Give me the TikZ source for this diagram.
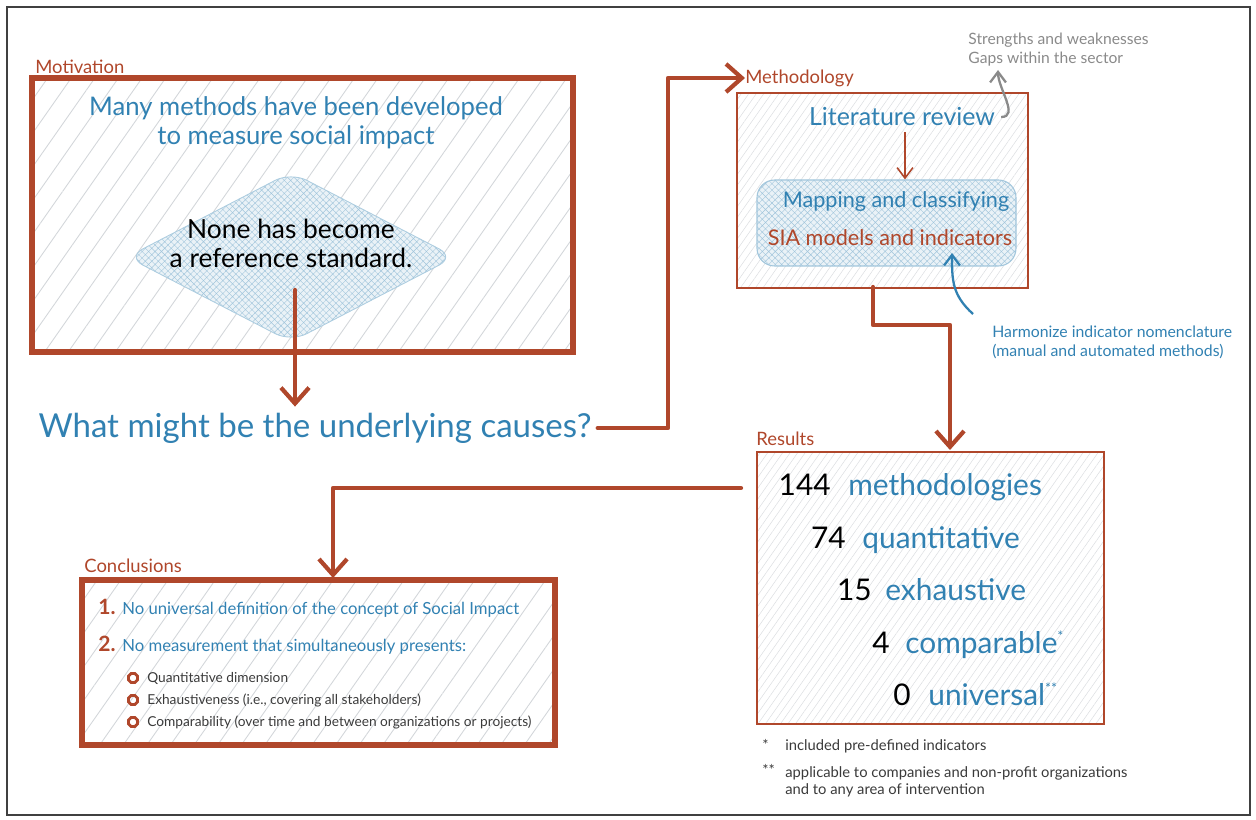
\documentclass[tikz,border=0pt]{standalone}
\usepackage{fontspec}
\setmainfont{Lato}
\usetikzlibrary{arrows.meta,patterns.meta,shapes.geometric,fit,calc}
\definecolor{rb}{HTML}{B0472B}
\definecolor{bl}{HTML}{3181B2}
\definecolor{gr}{HTML}{8A8A8A}
\definecolor{dk}{HTML}{3A3A3A}
\definecolor{hatchc}{HTML}{D3D6DA}
\newcommand\fsz[2]{\fontsize{#1}{#2}\selectfont}
\tikzset{
  hatchbg/.style={pattern={Lines[angle=55,distance=11pt,line width=0.5pt]}, pattern color=hatchc},
  finehatch/.style={pattern={Lines[angle=55,distance=3.5pt,line width=0.3pt]}, pattern color=hatchc!80},
  crosshatch/.style={preaction={fill=bl!10}, pattern={Hatch[angle=45,distance=2.6pt,line width=0.25pt]}, pattern color=bl!45},
  thickbox/.style={draw=rb, line width=3pt, hatchbg, inner sep=0pt},
  thinbox/.style={draw=rb, line width=1.1pt, finehatch, inner sep=0pt},
  lbl/.style={text=rb, font=\fsz{10.5}{12}, anchor=west, inner sep=0pt},
  arr/.style={draw=rb, line width=2.4pt, line cap=round, line join=round, -{Straight Barb[length=9pt,width=16pt,line width=2.4pt]}},
  thinarr/.style={draw=rb, line width=0.9pt, -{Straight Barb[length=6pt,width=9pt]}},
  bignum/.style={font=\fsz{17}{20}, text=black, inner sep=0pt, anchor=base east},
  bigword/.style={font=\fsz{17}{20}, text=bl, inner sep=0pt, anchor=base west},
  note/.style={font=\fsz{8.4}{10}, text=dk, inner sep=0pt, anchor=base west},
  bul/.style={draw=rb, line width=1.6pt, regular polygon, regular polygon sides=8, minimum size=5.5pt, inner sep=0pt},
  subtxt/.style={text=dk, font=\fsz{7.8}{9}, anchor=west, inner sep=0pt},
}
\begin{document}
\begin{tikzpicture}[x=0.02cm,y=-0.02cm]
\useasboundingbox (0,0) rectangle (1256,820);
% frame
\node[fit={(7,7) (1250,815)}, draw=black!75, line width=0.6pt, inner sep=0pt] (frame) {};

% ---------- Motivation ----------
\node[thickbox, fit={(32,78) (573,352)}] (mot) {};
\node[lbl] (motlab) at (35,67) {Motivation};
\node[text=bl, font=\fsz{14.6}{16.5}, align=center] (many) at (296,123) {Many methods have been developed\\to measure social impact};
\node[diamond, crosshatch, draw=bl!40, line width=0.5pt, rounded corners=10pt, minimum width=328*0.02cm, minimum height=170*0.02cm, inner sep=0pt] (dia) at (291,257) {};
\node[text=black, font=\fsz{15}{16.5}, align=center] (none) at (291,243) {None has become\\a reference standard.};
\coordinate (a1) at (295,290);
\node[text=bl, font=\fsz{18.8}{20}] (q) at (315,428) {What might be the underlying causes?};
\draw[arr] (a1) -- (a1 |- q.north);

% ---------- Methodology ----------
\node[lbl] (methlab) at (745,78) {Methodology};
\coordinate (c1) at (668,0);
\draw[arr] (q.east) -- (q.east -| c1) |- (methlab.west);
\node[thinbox, fit={(737,93) (1028,288)}] (meth) {};
\node[text=bl, font=\fsz{14.2}{16}] (lit) at (902,117) {Literature review};
\node[crosshatch, draw=bl!45, line width=0.6pt, rounded corners=10pt, fit={(757,180) (1016,266)}, inner sep=0pt] (map) {};
\node[text=bl, font=\fsz{12.3}{14}] (m1) at (896,202) {Mapping and classifying};
\node[text=rb, font=\fsz{12.3}{14}] (m2) at (890,238) {SIA models and indicators};
\draw[thinarr] (lit.south -| 905,0) -- (map.north -| 905,0);
\node[text=gr, font=\fsz{8.9}{10.8}, align=left, anchor=west, inner sep=0pt] (str) at (968,50) {Strengths and weaknesses\\Gaps within the sector};
\coordinate (gend) at (998,70);
\draw[gr, line width=1.3pt, -{Straight Barb[length=6pt,width=9pt]}] (lit.east) to[out=0,in=-90] (gend);
\node[text=bl, font=\fsz{9}{10.8}, align=left, anchor=west, inner sep=0pt] (harm) at (992,342) {Harmonize indicator nomenclature\\(manual and automated methods)};
\coordinate (hstart) at (973,314);
\coordinate (hend) at (952,253);
\draw[bl, line width=1.3pt, -{Straight Barb[length=6pt,width=9pt]}] (hstart) .. controls (952,295) and (952,280) .. (hend);

% ---------- Results ----------
\node[lbl] (reslab) at (756,439) {Results};
\node[thinbox, fit={(757,452) (1104,724)}] (res) {};
\coordinate (mb) at (873,287);
\coordinate (rt) at (950,450);
\draw[arr] (mb) -- ++(0,38) -| (rt);

\node[bignum] (n1) at (831,495) {144};
\node[bigword] (w1) at (848,495) {methodologies};
\node[bignum] (n2) at (846,548) {74};
\node[bigword] (w2) at (862,548) {quantitative};
\node[bignum] (n3) at (872,600) {15};
\node[bigword] (w3) at (885,600) {exhaustive};
\node[bignum] (n4) at (890,653) {4};
\node[bigword] (w4) at (905,653) {comparable\textsuperscript{\fsz{8}{8}*}};
\node[bignum] (n5) at (911,705) {0};
\node[bigword] (w5) at (928,705) {universal\textsuperscript{\fsz{8}{8}**}};

\node[note] (f1s) at (762,750) {*};
\node[note] (f1) at (785,750) {included pre-defined indicators};
\node[note] (f2s) at (762,775) {**};
\node[note, align=left, anchor=north west] (f2) at (785,766) {applicable to companies and non-profit organizations\\and to any area of intervention};

% ---------- Conclusions ----------
\node[lbl] (conlab) at (84,566) {Conclusions};
\node[thickbox, fit={(82,580) (555,745)}] (con) {};
\coordinate (rl) at (741,488);
\coordinate (ct) at (333,578);
\draw[arr] (rl) -| (ct);

\node[text=rb, font=\fsz{12}{14}\bfseries, anchor=base west, inner sep=0pt] (k1) at (98,614) {1.};
\node[text=bl, font=\fsz{9.5}{11}, anchor=base west, inner sep=0pt] (t1) at (122,614) {No universal definition of the concept of Social Impact};
\node[text=rb, font=\fsz{12}{14}\bfseries, anchor=base west, inner sep=0pt] (k2) at (98,651) {2.};
\node[text=bl, font=\fsz{9.5}{11}, anchor=base west, inner sep=0pt] (t2) at (122,651) {No measurement that simultaneously presents:};
\node[bul] (b1) at (133,678) {};
\node[bul] (b2) at (133,700) {};
\node[bul] (b3) at (133,722) {};
\node[subtxt] (s1) at (147,678) {Quantitative dimension};
\node[subtxt] (s2) at (147,700) {Exhaustiveness (i.e., covering all stakeholders)};
\node[subtxt] (s3) at (147,722) {Comparability (over time and between organizations or projects)};
\end{tikzpicture}
\end{document}
